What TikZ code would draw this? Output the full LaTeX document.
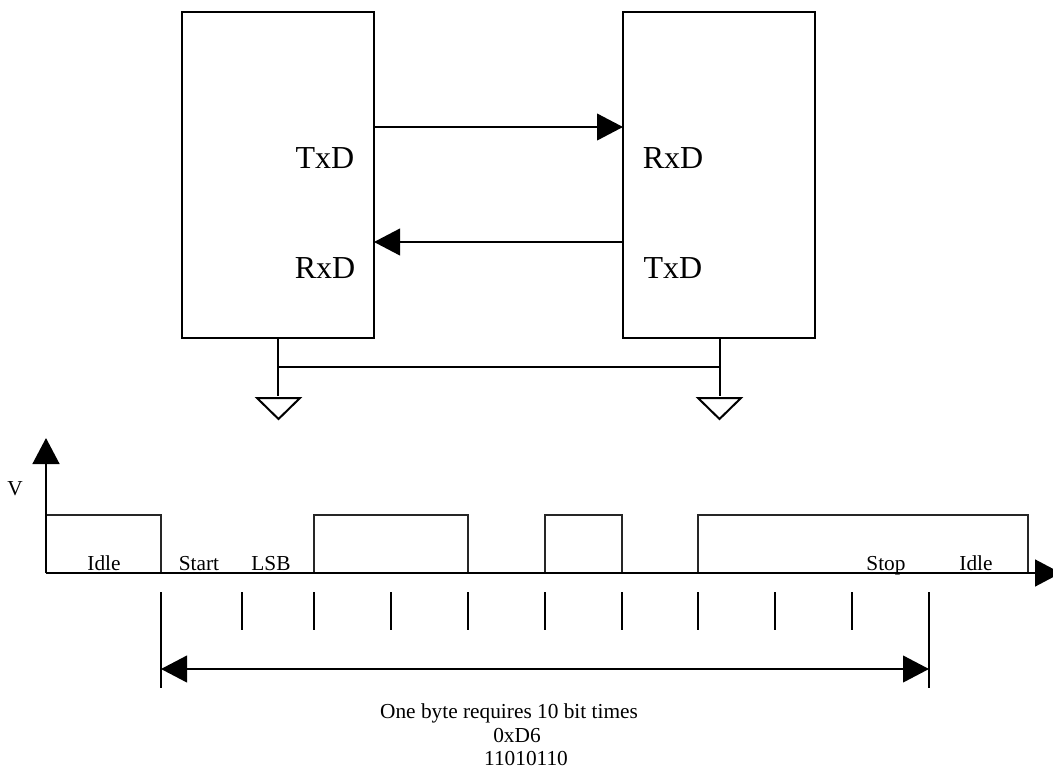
\documentclass[tikz,border=0pt]{standalone}
\usepackage{fontspec}
\setmainfont{Liberation Serif}
\usetikzlibrary{arrows.meta}
\newcommand{\bittick}[1]{
	\draw[thinline] (#1,592) -- (#1,630);
}
\newcommand{\gndsym}[1]{
	\draw[thinline, line join=miter] (#1,398) -- (#1+43,398) -- (#1+21.5,419) -- cycle;
}
\newcommand{\pulse}[2]{
	\draw[waveline] (#1,573) -- (#1,515) -- (#2,515) -- (#2,573);
}
\tikzset{
	thinline/.style={line width=1.5pt},
	waveline/.style={line width=1.5pt, black!85},
	bigarrow/.style={line width=1.5pt, -{Triangle[length=19.5pt, width=20pt]}},
	bothways/.style={line width=1.5pt, {Triangle[length=19.5pt, width=20pt]}-{Triangle[length=19.5pt, width=20pt]}},
	devbox/.style={draw, line width=1.5pt, minimum width=144pt, minimum height=244.5pt, outer sep=0pt},
	biglabel/.style={font=\fontsize{24}{24}\selectfont, anchor=base, inner sep=0pt},
	smalllabel/.style={font=\fontsize{16}{16}\selectfont, anchor=base, inner sep=0pt},
}
\begin{document}
\begin{tikzpicture}[x=0.75pt, y=-0.75pt]
	\useasboundingbox (0,0) rectangle (1053,768);
	% the two devices
	\node[devbox] (devleft) at (278,175) {};
	\node[devbox] (devright) at (719,175) {};
	\node[biglabel] (txdleft) at (325,168) {TxD};
	\node[biglabel] (rxdleft) at (325,278) {RxD};
	\node[biglabel] (rxdright) at (673,168) {RxD};
	\node[biglabel] (txdright) at (673,278) {TxD};
	%
	% serial lines
	\coordinate (linetop) at (400,127);
	\coordinate (linebot) at (400,242);
	\draw[bigarrow] (devleft.east |- linetop) -- (devright.west |- linetop);
	\draw[bigarrow] (devright.west |- linebot) -- (devleft.east |- linebot);
	%
	% ground
	\coordinate (gndleft) at (278,396);
	\coordinate (gndright) at (720,396);
	\coordinate (gndbus) at (500,367);
	\draw[thinline] (gndleft |- devleft.south) -- (gndleft);
	\draw[thinline] (gndright |- devright.south) -- (gndright);
	\draw[thinline] (gndleft |- gndbus) -- (gndright |- gndbus);
	\gndsym{257}
	\gndsym{698}
	%
	% signal
	\pulse{46}{161}
	\pulse{314}{468}
	\pulse{545}{622}
	\pulse{698}{1028}
	\node[smalllabel] (idlefirst) at (104,570) {Idle};
	\node[smalllabel] (startbit) at (199,570) {Start};
	\node[smalllabel] (lsbbit) at (271,570) {LSB};
	\node[smalllabel] (stopbit) at (886,570) {Stop};
	\node[smalllabel] (idlelast) at (976,570) {Idle};
	%
	% axes
	\coordinate (origin) at (46,573);
	\coordinate (vtop) at (46,438);
	\coordinate (tend) at (1061,573);
	\draw[bigarrow, line width=2pt] (origin) -- (vtop);
	\draw[bigarrow, line width=2pt] (origin) -- (tend);
	\node[smalllabel] (vlabel) at (15,495) {V};
	%
	% bit times
	\bittick{242}
	\bittick{314}
	\bittick{391}
	\bittick{468}
	\bittick{545}
	\bittick{622}
	\bittick{698}
	\bittick{775}
	\bittick{852}
	\coordinate (bytestart) at (161,592);
	\coordinate (byteend) at (929,592);
	\coordinate (bytelow) at (500,688);
	\coordinate (bytemid) at (500,669);
	\draw[thinline] (bytestart) -- (bytestart |- bytelow);
	\draw[thinline] (byteend) -- (byteend |- bytelow);
	\draw[bothways] (bytestart |- bytemid) -- (byteend |- bytemid);
	\node[smalllabel] (textbyte) at (509,718) {One byte requires 10 bit times};
	\node[smalllabel] (texthex) at (517,742) {0xD6};
	\node[smalllabel] (textbin) at (526,765.5) {11010110};
\end{tikzpicture}
\end{document}
